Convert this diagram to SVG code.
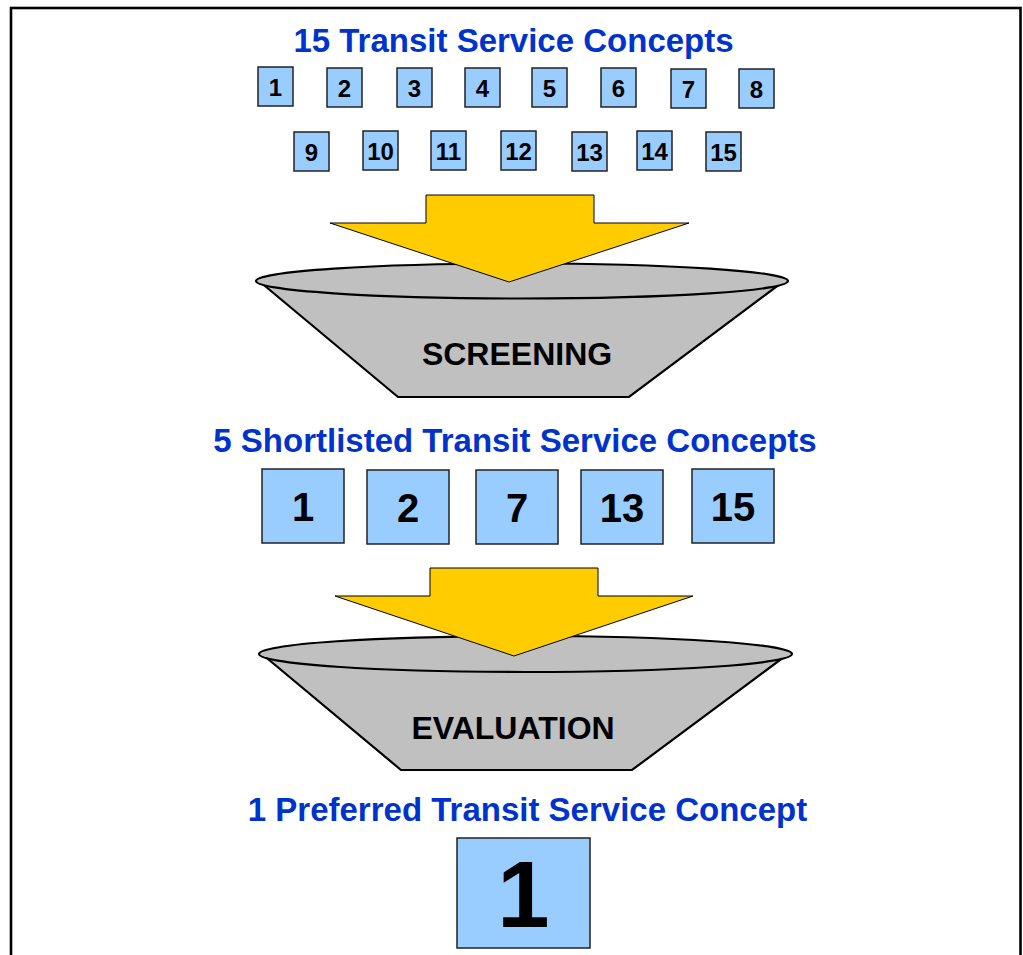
<svg xmlns="http://www.w3.org/2000/svg" width="1023" height="955" viewBox="0 0 1023 955">
<style>
.title{font-family:"Liberation Sans",Arial,sans-serif;font-weight:bold;font-size:33px;fill:#0033CC;text-anchor:middle}
.box{fill:#99CCFF;stroke:#222;stroke-width:1.5}
.num{font-family:"Liberation Sans",Arial,sans-serif;font-weight:bold;fill:#000;text-anchor:middle}
.s{font-size:24px}
.m{font-size:40px}
.b{font-size:94px}
.arrow{fill:#FFCC00;stroke:#000;stroke-width:1}
.bowl{fill:#C0C0C0;stroke:#000;stroke-width:2.2}
.stage{font-family:"Liberation Sans",Arial,sans-serif;font-weight:bold;font-size:32px;fill:#000;text-anchor:middle}
</style>
<rect x="0" y="0" width="1023" height="955" fill="#fff"/>
<rect x="11" y="8" width="1009.5" height="980" fill="none" stroke="#000" stroke-width="2.6"/>

<text class="title" x="513.5" y="52">15 Transit Service Concepts</text>

<g id="c1"><rect class="box" x="258" y="67" width="35" height="39"/><text class="num s" x="275.5" y="96">1</text></g>
<g id="c2"><rect class="box" x="327" y="68" width="35" height="39"/><text class="num s" x="344.5" y="97">2</text></g>
<g id="c3"><rect class="box" x="397" y="68" width="35" height="39"/><text class="num s" x="414.5" y="97">3</text></g>
<g id="c4"><rect class="box" x="465" y="68" width="35" height="39"/><text class="num s" x="482.5" y="97">4</text></g>
<g id="c5"><rect class="box" x="532" y="68" width="35" height="39"/><text class="num s" x="549.5" y="97">5</text></g>
<g id="c6"><rect class="box" x="601" y="68" width="35" height="39"/><text class="num s" x="618.5" y="97">6</text></g>
<g id="c7"><rect class="box" x="671" y="69" width="35" height="39"/><text class="num s" x="688.5" y="98">7</text></g>
<g id="c8"><rect class="box" x="739" y="69" width="35" height="39"/><text class="num s" x="756.5" y="98">8</text></g>
<g id="c9"><rect class="box" x="294" y="132" width="35" height="39"/><text class="num s" x="311.5" y="161">9</text></g>
<g id="c10"><rect class="box" x="363" y="131" width="35" height="39"/><text class="num s" x="380.5" y="160">10</text></g>
<g id="c11"><rect class="box" x="431" y="131" width="35" height="39"/><text class="num s" x="448.5" y="160">11</text></g>
<g id="c12"><rect class="box" x="501" y="131" width="35" height="39"/><text class="num s" x="518.5" y="160">12</text></g>
<g id="c13"><rect class="box" x="572" y="132" width="35" height="39"/><text class="num s" x="589.5" y="161">13</text></g>
<g id="c14"><rect class="box" x="637" y="131" width="35" height="39"/><text class="num s" x="654.5" y="160">14</text></g>
<g id="c15"><rect class="box" x="706" y="132" width="35" height="39"/><text class="num s" x="723.5" y="161">15</text></g>

<g id="screening">
<polygon class="bowl" points="259,281 398,397 629,397 784,281"/>
<ellipse class="bowl" cx="522" cy="281" rx="266" ry="17.5"/>
<text class="stage" x="517" y="365">SCREENING</text>
</g>

<text class="title" x="515" y="452">5 Shortlisted Transit Service Concepts</text>

<g id="s1"><rect class="box" x="262" y="469" width="82" height="74"/><text class="num m" x="303" y="521">1</text></g>
<g id="s2"><rect class="box" x="367" y="470" width="82" height="74"/><text class="num m" x="408" y="522">2</text></g>
<g id="s7"><rect class="box" x="476" y="470" width="82" height="74"/><text class="num m" x="517" y="522">7</text></g>
<g id="s13"><rect class="box" x="581" y="470" width="82" height="74"/><text class="num m" x="622" y="522">13</text></g>
<g id="s15"><rect class="box" x="692" y="469" width="82" height="74"/><text class="num m" x="733" y="521">15</text></g>

<g id="evaluation">
<polygon class="bowl" points="262,654 401,770 632,770 788,654"/>
<ellipse class="bowl" cx="525.5" cy="654" rx="266.5" ry="18"/>
<text class="stage" x="513" y="739">EVALUATION</text>
</g>

<text class="title" x="527.5" y="821">1 Preferred Transit Service Concept</text>

<g id="preferred"><rect class="box" x="457" y="838" width="133" height="110"/><text class="num b" x="523.5" y="927">1</text></g>

<g id="connectors">
<polygon class="arrow" points="426,195 594,195 594,223 689,223 509,282 330,223 426,223"/>
<polygon class="arrow" points="430,568 598,568 598,596 693,596 514,656 335,596 430,596"/>
</g>
</svg>
